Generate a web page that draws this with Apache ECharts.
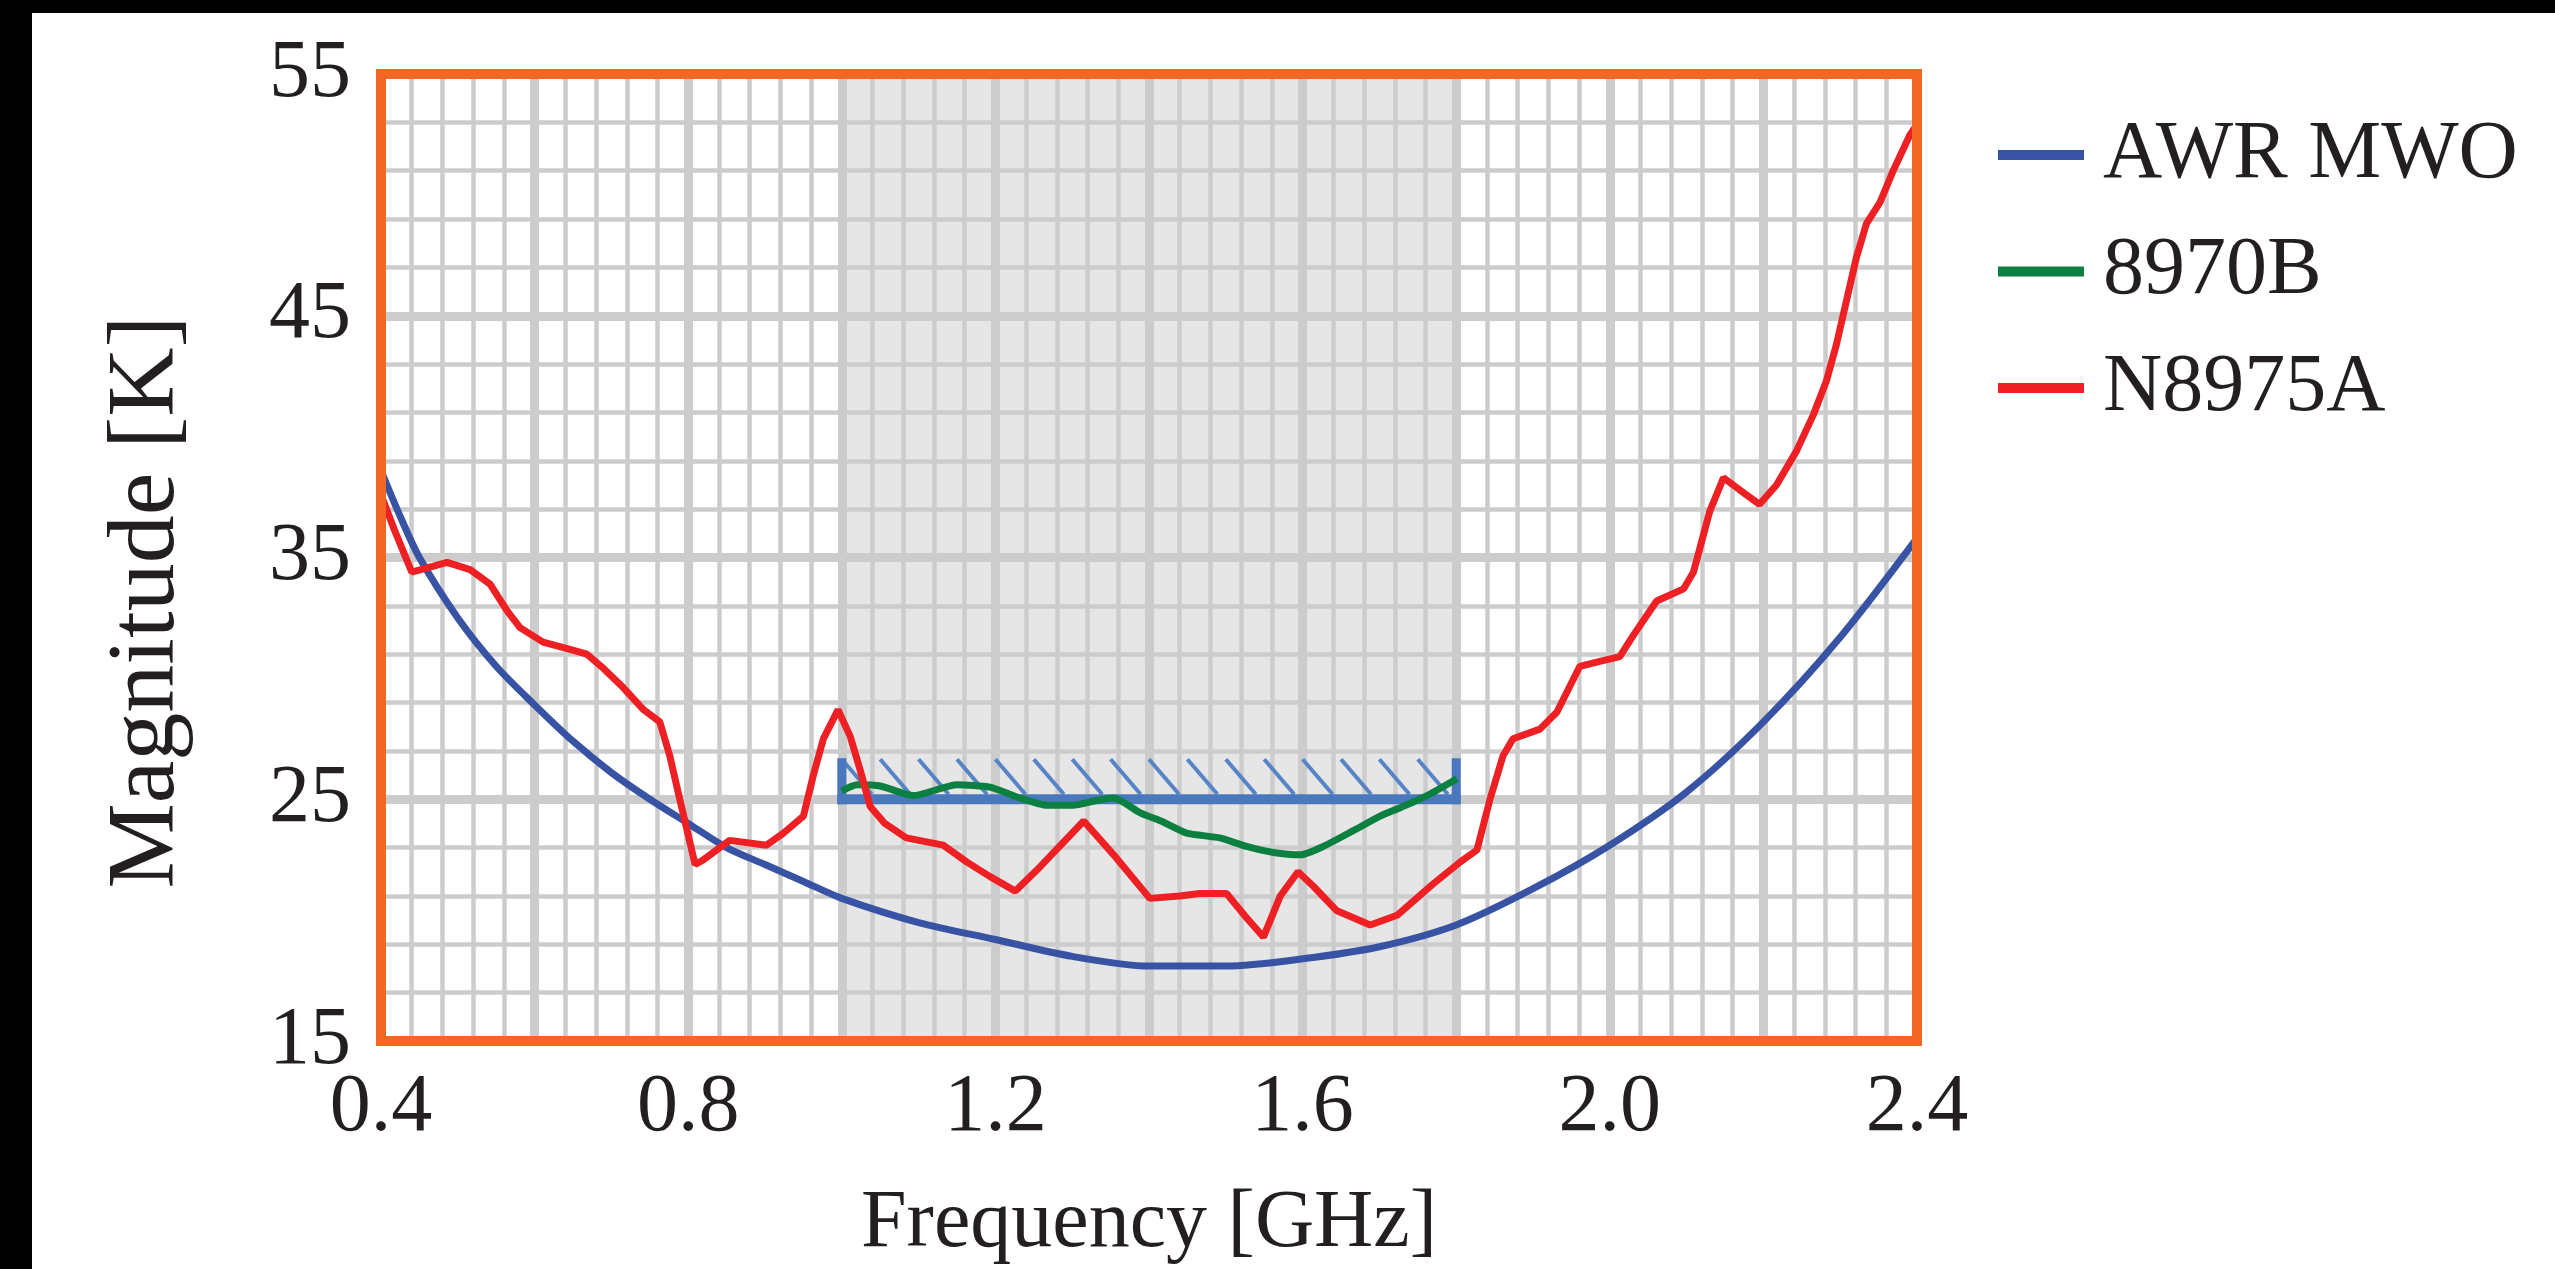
<!DOCTYPE html>
<html>
<head>
<meta charset="utf-8">
<script src="https://cdn.jsdelivr.net/npm/echarts@6/dist/echarts.min.js"></script>
<style>
html,body{margin:0;padding:0;background:#fff;overflow:hidden}
#chart{position:absolute;left:0;top:0;width:2555px;height:1269px}
.bar{position:absolute;background:#000;z-index:5}
</style>
</head>
<body>
<div id="chart"></div>
<div class="bar" style="left:0;top:0;width:2555px;height:13px"></div>
<div class="bar" style="left:0;top:0;width:32px;height:1269px"></div>
<script>
// ---------- data ----------
const xTickLabels = ['0.4', '0.8', '1.2', '1.6', '2.0', '2.4'];
const yTickLabels = ['15', '25', '35', '45', '55'];
const seriesNames = ['AWR MWO', '8970B', 'N8975A'];

const awrFreq = [0.40,0.425,0.45,0.50,0.55,0.60,0.65,0.70,0.75,0.80,0.85,0.90,0.95,1.00,1.10,1.20,1.30,1.40,1.50,1.60,1.70,1.80,1.90,2.00,2.10,2.20,2.30,2.40];
const awrMag  = [38.6,36.7,35.0,32.5,30.5,28.9,27.4,26.1,25.0,24.0,23.0,22.3,21.6,20.9,19.9,19.2,18.5,18.1,18.1,18.4,18.9,19.8,21.3,23.1,25.3,28.2,31.7,35.8];

const g8970Freq = [1.000,1.020,1.050,1.093,1.150,1.193,1.232,1.267,1.301,1.332,1.354,1.388,1.419,1.449,1.492,1.527,1.562,1.597,1.627,1.666,1.701,1.727,1.762,1.801];
const g8970Mag  = [25.35,25.6,25.55,25.15,25.6,25.5,25.05,24.75,24.75,24.95,25.05,24.45,24.05,23.6,23.4,23.05,22.8,22.7,23.05,23.7,24.3,24.65,25.15,25.85];

const n8975Freq = [0.400,0.418,0.440,0.486,0.516,0.542,0.564,0.581,0.611,0.646,0.668,0.690,0.716,0.742,0.763,0.776,0.789,0.809,0.820,0.854,0.902,0.924,0.950,0.963,0.976,0.995,1.011,1.024,1.037,1.056,1.084,1.132,1.163,1.193,1.226,1.258,1.315,1.354,1.401,1.440,1.466,1.501,1.527,1.549,1.571,1.594,1.614,1.644,1.688,1.723,1.770,1.805,1.827,1.844,1.861,1.874,1.909,1.931,1.961,1.987,2.013,2.031,2.061,2.096,2.109,2.130,2.148,2.169,2.195,2.217,2.243,2.265,2.282,2.295,2.308,2.321,2.334,2.352,2.369,2.391,2.400];
const n8975Mag  = [37.6,36.1,34.4,34.8,34.5,33.9,32.8,32.1,31.5,31.2,31.0,30.4,29.6,28.7,28.2,26.8,25.0,22.3,22.5,23.3,23.1,23.6,24.3,26.0,27.5,28.7,27.6,26.2,24.7,24.0,23.4,23.1,22.4,21.8,21.2,22.2,24.1,22.7,20.9,21.0,21.1,21.1,20.1,19.3,21.0,22.0,21.4,20.4,19.8,20.2,21.5,22.4,22.9,25.0,26.8,27.5,27.9,28.6,30.5,30.7,30.9,31.8,33.2,33.7,34.4,36.9,38.3,37.8,37.2,38.0,39.4,40.9,42.3,43.8,45.6,47.4,48.8,49.7,51.0,52.5,52.9];

// specification band / limit (GHz, K)
const bandRange = [1.0, 1.8];
const specRange = [1.0, 1.8];
const specLevel = 25;

// ---------- style ----------
const FONT = '"Liberation Serif", "Times New Roman", serif';
const TXT = '#231f20';
const GRID_COLOR = '#cccccc';
const C_AWR = '#3853a4', C_8970 = '#0c8040', C_N8975 = '#ee2024', C_SPEC = '#4a78bf', C_HATCH = '#5784c6';
const HATCH_STEP_GHZ = 0.05, HATCH_DX = 30, TICK_UP = 41;
const LW = 7;

const pairs = (xs, ys) => xs.map((x, i) => [x, ys[i]]);
const xMin = 0.4, xMax = 2.4, yMin = 15, yMax = 55;

function gridAxis(interval, width, isX) {
  return {
    type: 'value', min: isX ? xMin : yMin, max: isX ? xMax : yMax, interval: interval,
    axisLine: {show: false}, axisTick: {show: false}, axisLabel: {show: false},
    splitLine: {show: true, lineStyle: {color: GRID_COLOR, width: width}}
  };
}

const chart = echarts.init(document.getElementById('chart'), null, {renderer: 'canvas'});
chart.setOption({
  animation: false,
  backgroundColor: '#ffffff',
  grid: {left: 381, right: 638, top: 74, bottom: 228, show: true, borderColor: '#f26722', borderWidth: 10, backgroundColor: 'transparent', z: 10},
  xAxis: [
    {
      type: 'value', min: xMin, max: xMax, interval: 0.4,
      axisLine: {show: false}, axisTick: {show: false}, splitLine: {show: false},
      axisLabel: {
        margin: 26, color: TXT, fontFamily: FONT, fontSize: 82,
        formatter: v => { const l = xTickLabels.find(s => Math.abs(parseFloat(s) - v) < 1e-6); return l || ''; }
      }
    },
    gridAxis(0.04, 4.5, true),
    gridAxis(0.2, 9, true)
  ],
  yAxis: [
    {
      type: 'value', min: yMin, max: yMax, interval: 10,
      axisLine: {show: false}, axisTick: {show: false}, splitLine: {show: false},
      axisLabel: {
        margin: 30, color: TXT, fontFamily: FONT, fontSize: 82,
        formatter: v => { const l = yTickLabels.find(s => Math.abs(parseFloat(s) - v) < 1e-6); return l || ''; }
      }
    },
    gridAxis(2, 4.5, false),
    gridAxis(10, 9, false)
  ],
  legend: {
    data: seriesNames, orient: 'vertical', left: 1993, top: 102,
    icon: 'rect', itemWidth: 86, itemHeight: 10, itemGap: 20.5,
    selectedMode: false,
    textStyle: {color: TXT, fontFamily: FONT, fontSize: 82, lineHeight: 96, padding: [0, 0, 0, 14]}
  },
  graphic: [
    {type: 'text', x: 148, y: 602, rotation: Math.PI / 2,
     style: {text: 'Magnitude [K]', fill: TXT, font: '96px ' + FONT, align: 'center', verticalAlign: 'middle'}},
    {type: 'text', x: 1149, y: 1224,
     style: {text: 'Frequency [GHz]', fill: TXT, font: '82px ' + FONT, align: 'center', verticalAlign: 'middle'}}
  ],
  series: [
    {
      type: 'custom', name: 'band', z: -1, silent: true,
      data: [[bandRange[0], bandRange[1]]],
      renderItem: function (params, api) {
        const a = api.coord([api.value(0), yMax]);
        const b = api.coord([api.value(1), yMin]);
        return {type: 'rect', shape: {x: a[0], y: a[1], width: b[0] - a[0], height: b[1] - a[1]}, style: {fill: '#e6e6e6'}};
      }
    },
    {
      type: 'custom', name: 'spec', z: 1, silent: true,
      data: [[specRange[0], specRange[1], specLevel]],
      renderItem: function (params, api) {
        const p0 = api.coord([api.value(0), api.value(2)]);
        const p1 = api.coord([api.value(1), api.value(2)]);
        const step = api.size([HATCH_STEP_GHZ, 0])[0];
        const children = [];
        for (let x = p0[0]; x + HATCH_DX < p1[0]; x += step) {
          children.push({type: 'line', shape: {x1: x, y1: p0[1] - TICK_UP + 1, x2: x + HATCH_DX, y2: p0[1] - 5},
            style: {stroke: C_HATCH, lineWidth: 4}});
        }
        children.push({type: 'line', shape: {x1: p0[0] - 4.5, y1: p0[1], x2: p1[0] + 4.5, y2: p1[1]}, style: {stroke: C_SPEC, lineWidth: 10}});
        children.push({type: 'line', shape: {x1: p0[0], y1: p0[1] + 5, x2: p0[0], y2: p0[1] - TICK_UP}, style: {stroke: C_SPEC, lineWidth: 9}});
        children.push({type: 'line', shape: {x1: p1[0], y1: p1[1] + 5, x2: p1[0], y2: p1[1] - TICK_UP}, style: {stroke: C_SPEC, lineWidth: 9}});
        return {type: 'group', children: children};
      }
    },
    {
      type: 'line', name: seriesNames[0], data: pairs(awrFreq, awrMag), smooth: 0.3,
      showSymbol: false, color: C_AWR, lineStyle: {width: LW, color: C_AWR}, z: 2
    },
    {
      type: 'line', name: seriesNames[1], data: pairs(g8970Freq, g8970Mag), smooth: 0.2,
      showSymbol: false, color: C_8970, lineStyle: {width: LW, color: C_8970}, z: 3
    },
    {
      type: 'line', name: seriesNames[2], data: pairs(n8975Freq, n8975Mag),
      showSymbol: false, color: C_N8975, lineStyle: {width: LW, color: C_N8975}, z: 4
    }
  ]
});
</script>
</body>
</html>
